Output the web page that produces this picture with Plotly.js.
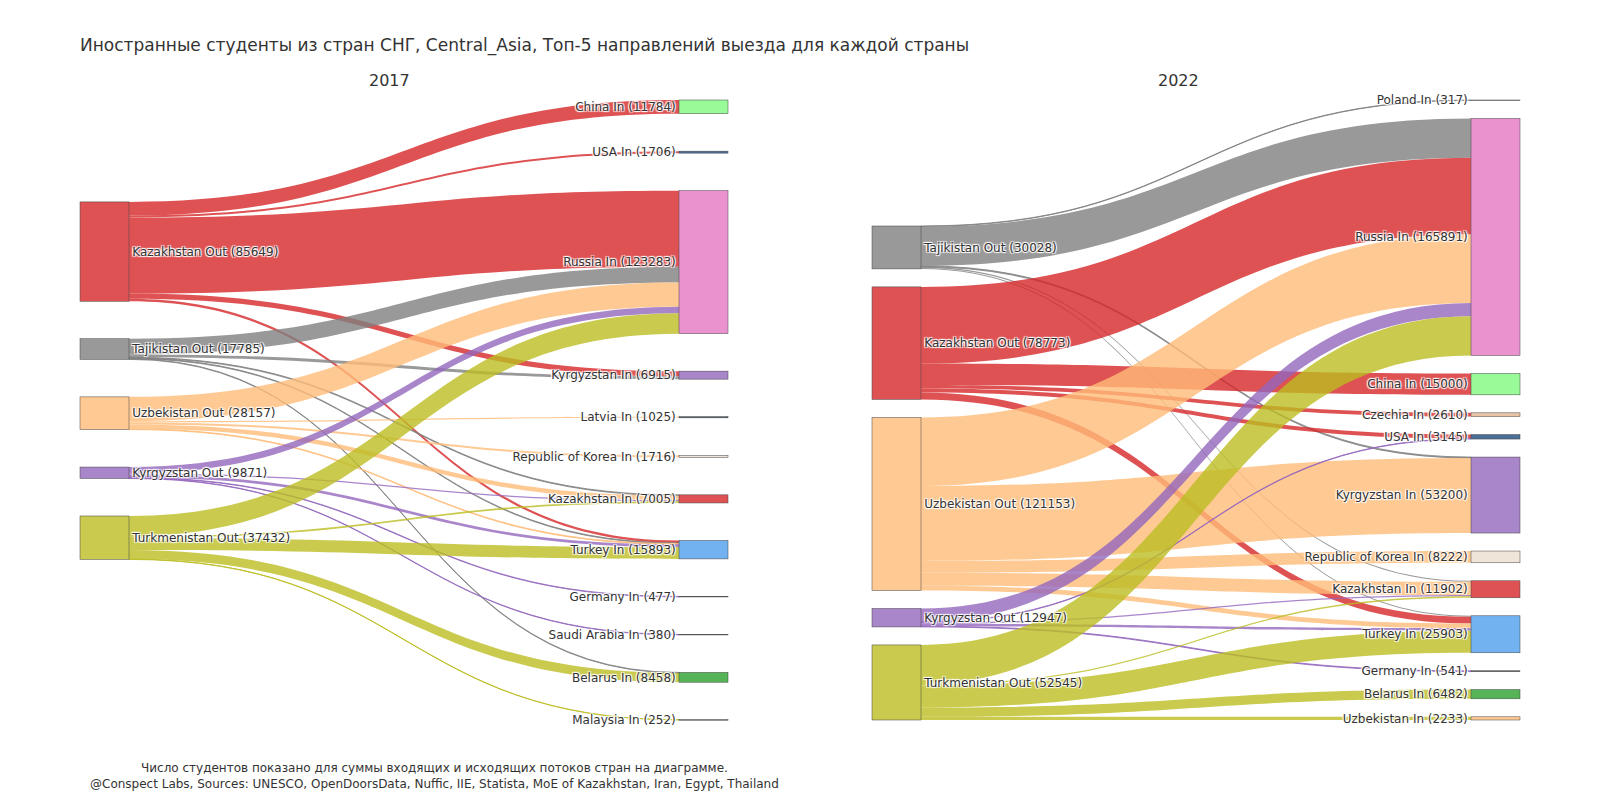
<!DOCTYPE html>
<html>
<head>
<meta charset="utf-8">
<script src="https://cdn.plot.ly/plotly-3.0.1.min.js"></script>
<style>html,body{margin:0;padding:0;background:#fff;}</style>
</head>
<body>
<div id="chart" style="width:1600px;height:800px;"></div>
<script>
// ---------- 2017 ----------
const nodes2017 = ['Kazakhstan Out', 'Tajikistan Out', 'Uzbekistan Out', 'Kyrgyzstan Out', 'Turkmenistan Out',
  'China In', 'USA In', 'Russia In', 'Kyrgyzstan In', 'Latvia In', 'Kazakhstan In', 'Republic of Korea In',
  'Turkey In', 'Germany In', 'Saudi Arabia In', 'Belarus In', 'Malaysia In'];
const linkFrom2017 = [
  'Kazakhstan Out', 'Kazakhstan Out', 'Kazakhstan Out', 'Kazakhstan Out', 'Kazakhstan Out',
  'Tajikistan Out', 'Tajikistan Out', 'Tajikistan Out', 'Tajikistan Out', 'Tajikistan Out',
  'Uzbekistan Out', 'Uzbekistan Out', 'Uzbekistan Out', 'Uzbekistan Out', 'Uzbekistan Out',
  'Kyrgyzstan Out', 'Kyrgyzstan Out', 'Kyrgyzstan Out', 'Kyrgyzstan Out', 'Kyrgyzstan Out',
  'Turkmenistan Out', 'Turkmenistan Out', 'Turkmenistan Out', 'Turkmenistan Out', 'Turkmenistan Out'];
const linkTo2017 = [
  'China In', 'USA In', 'Russia In', 'Kyrgyzstan In', 'Turkey In',
  'Russia In', 'Kyrgyzstan In', 'Kazakhstan In', 'Turkey In', 'Belarus In',
  'Russia In', 'Latvia In', 'Republic of Korea In', 'Kazakhstan In', 'Turkey In',
  'Russia In', 'Kazakhstan In', 'Turkey In', 'Germany In', 'Saudi Arabia In',
  'Russia In', 'Turkey In', 'Belarus In', 'Malaysia In', 'Kazakhstan In'];
const linkValue2017 = [
  11784, 1706, 65559, 4500, 2100,
  13570, 2415, 700, 600, 500,
  21000, 1025, 1716, 3800, 616,
  5614, 1100, 2300, 477, 380,
  17540, 10277, 7958, 252, 1405];

// ---------- 2022 ----------
const nodes2022 = ['Tajikistan Out', 'Kazakhstan Out', 'Uzbekistan Out', 'Kyrgyzstan Out', 'Turkmenistan Out',
  'Poland In', 'Russia In', 'China In', 'Czechia In', 'USA In', 'Kyrgyzstan In', 'Republic of Korea In',
  'Kazakhstan In', 'Turkey In', 'Germany In', 'Belarus In', 'Uzbekistan In'];
const linkFrom2022 = [
  'Tajikistan Out', 'Tajikistan Out', 'Tajikistan Out', 'Tajikistan Out', 'Tajikistan Out',
  'Kazakhstan Out', 'Kazakhstan Out', 'Kazakhstan Out', 'Kazakhstan Out', 'Kazakhstan Out',
  'Uzbekistan Out', 'Uzbekistan Out', 'Uzbekistan Out', 'Uzbekistan Out', 'Uzbekistan Out',
  'Kyrgyzstan Out', 'Kyrgyzstan Out', 'Kyrgyzstan Out', 'Kyrgyzstan Out', 'Kyrgyzstan Out',
  'Turkmenistan Out', 'Turkmenistan Out', 'Turkmenistan Out', 'Turkmenistan Out', 'Turkmenistan Out'];
const linkTo2022 = [
  'Poland In', 'Russia In', 'Kyrgyzstan In', 'Kazakhstan In', 'Turkey In',
  'Russia In', 'China In', 'Czechia In', 'USA In', 'Turkey In',
  'Russia In', 'Kyrgyzstan In', 'Republic of Korea In', 'Kazakhstan In', 'Turkey In',
  'Russia In', 'USA In', 'Kazakhstan In', 'Turkey In', 'Germany In',
  'Russia In', 'Kazakhstan In', 'Turkey In', 'Belarus In', 'Uzbekistan In'];
const linkValue2022 = [
  317, 27560, 700, 750, 701,
  53600, 15000, 2610, 2800, 4763,
  48000, 52500, 8222, 9200, 3231,
  9391, 345, 962, 1708, 541,
  27340, 990, 15500, 6482, 2233];

// ---------- styling ----------
const countryRGB = {
  'Kazakhstan': [214, 39, 40], 'Tajikistan': [127, 127, 127], 'Uzbekistan': [255, 187, 120],
  'Kyrgyzstan': [148, 103, 189], 'Turkmenistan': [188, 189, 34], 'Russia': [227, 119, 194],
  'China': [126, 250, 126], 'USA': [31, 75, 125], 'Latvia': [30, 50, 72],
  'Republic of Korea': [236, 222, 207], 'Turkey': [79, 159, 236], 'Germany': [0, 0, 0],
  'Saudi Arabia': [0, 0, 0], 'Belarus': [44, 160, 44], 'Malaysia': [40, 52, 60],
  'Poland': [50, 100, 50], 'Czechia': [226, 181, 143]
};
function countryOf(n) { return n.replace(/ (In|Out)$/, ''); }
function rgba(c, a) { return 'rgba(' + c[0] + ',' + c[1] + ',' + c[2] + ',' + a + ')'; }

function buildTrace(nodes, from, to, vals, domainX, pad) {
  const inSum = nodes.map(() => 0), outSum = nodes.map(() => 0);
  const src = from.map(n => nodes.indexOf(n));
  const tgt = to.map(n => nodes.indexOf(n));
  vals.forEach((v, i) => { outSum[src[i]] += v; inSum[tgt[i]] += v; });
  const labels = nodes.map((n, i) => n + ' (' + Math.max(inSum[i], outSum[i]) + ')');
  return {
    type: 'sankey',
    domain: {x: domainX, y: [0, 1]},
    node: {
      label: labels,
      color: nodes.map(n => rgba(countryRGB[countryOf(n)], 0.8)),
      pad: pad,
      thickness: 49,
      line: {color: '#444', width: 0.5}
    },
    link: {
      source: src,
      target: tgt,
      value: vals,
      color: src.map(s => rgba(countryRGB[countryOf(nodes[s])], 0.8))
    },
    textfont: {family: 'Verdana, "DejaVu Sans", sans-serif', size: 12, color: '#333'}
  };
}

const data = [
  buildTrace(nodes2017, linkFrom2017, linkTo2017, linkValue2017, [0, 0.45], 37.5),
  buildTrace(nodes2022, linkFrom2022, linkTo2022, linkValue2022, [0.55, 1], 18)
];

const layout = {
  width: 1600, height: 800,
  margin: {l: 80, r: 80, t: 100, b: 80},
  font: {family: 'Verdana, "DejaVu Sans", sans-serif', size: 12, color: '#333'},
  paper_bgcolor: '#fff',
  title: {text: 'Иностранные студенты из стран СНГ, Central_Asia, Топ-5 направлений выезда для каждой страны',
          x: 0.05, xanchor: 'left', y: 0.944, yanchor: 'middle', font: {size: 17}},
  annotations: [
    {text: '2017', x: 0.2146, y: 1.032, xref: 'paper', yref: 'paper', showarrow: false,
     xanchor: 'center', yanchor: 'middle', font: {size: 16}},
    {text: '2022', x: 0.763, y: 1.032, xref: 'paper', yref: 'paper', showarrow: false,
     xanchor: 'center', yanchor: 'middle', font: {size: 16}},
    {text: 'Число студентов показано для суммы входящих и исходящих потоков стран на диаграмме.<br>@Conspect Labs, Sources: UNESCO, OpenDoorsData, Nuffic, IIE, Statista, MoE of Kazakhstan, Iran, Egypt, Thailand',
     x: 0.246, y: -0.09, xref: 'paper', yref: 'paper', showarrow: false,
     xanchor: 'center', yanchor: 'middle', font: {size: 12}}
  ]
};

Plotly.newPlot('chart', data, layout, {displayModeBar: false});
</script>
</body>
</html>
